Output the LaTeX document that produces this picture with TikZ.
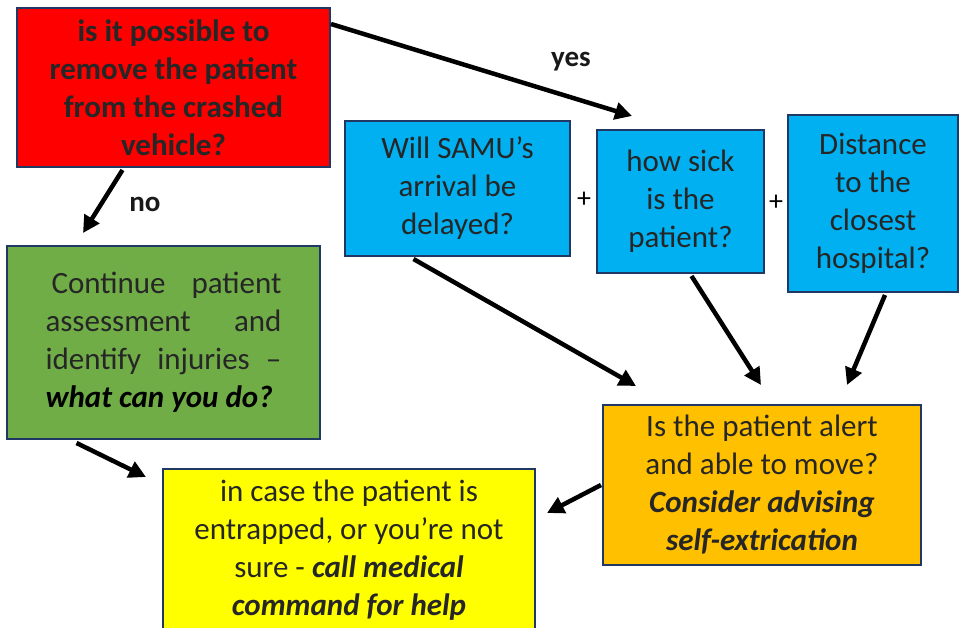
\documentclass[tikz,border=0pt]{standalone}
\usepackage{fontspec}
\setmainfont{Carlito}
\usetikzlibrary{arrows.meta}
\definecolor{navy}{HTML}{203864}
\definecolor{txt}{HTML}{262626}
\definecolor{redf}{HTML}{FF0000}
\definecolor{bluef}{HTML}{00B0F0}
\definecolor{greenf}{HTML}{70AD47}
\definecolor{orangef}{HTML}{FFC000}
\definecolor{yellowf}{HTML}{FFFF00}
\newcommand{\bi}[1]{\textbf{\textit{#1}}}
\tikzset{
  box/.style={draw=navy, line width=2pt, rectangle, inner sep=0pt, align=center,
    text=txt, font=\fontsize{31}{38}\selectfont},
  conn/.style={line width=4.5pt, -{Triangle[length=17pt,width=17pt]}},
  lbl/.style={font=\fontsize{29}{34}\selectfont\bfseries, text=black!90, inner sep=0pt},
  plus/.style={font=\fontsize{28}{30}\selectfont, inner sep=0pt}
}
\begin{document}
\begin{tikzpicture}[x=1pt,y=-1pt]
\useasboundingbox (0,0) rectangle (964,628);
% boxes
\node[box, fill=redf, minimum width=313pt, minimum height=159pt, font=\fontsize{31}{38}\selectfont\bfseries]
  (red) at (173.5,87.5) {is it possible to\\remove the patient\\from the crashed\\vehicle?};
\node[box, fill=bluef, minimum width=225pt, minimum height=135pt]
  (blueA) at (457.5,188.5) {Will SAMU’s\\arrival be\\delayed?};
\node[box, fill=bluef, minimum width=167pt, minimum height=143pt]
  (blueB) at (680.5,201.5) {how sick\\is the\\patient?};
\node[box, fill=bluef, minimum width=170pt, minimum height=177pt]
  (blueC) at (873,203.5) {Distance\\to the\\closest\\hospital?};
\node[box, fill=greenf, minimum width=313pt, minimum height=193pt, align=left]
  (green) at (163.5,342.5) {\makebox[236pt][s]{\hspace{6pt}Continue patient}\\
  \makebox[236pt][s]{assessment and}\\
  \makebox[236pt][s]{identify injuries –}\\
  \makebox[236pt][l]{\color{black}\bi{what can you do?}}};
\node[box, fill=orangef, minimum width=318pt, minimum height=160pt]
  (orange) at (762,485) {Is the patient alert\\and able to move?\\\bi{Consider advising}\\\bi{self-extrication}};
\node[box, fill=yellowf, minimum width=372pt, minimum height=162pt]
  (yellow) at (349,550) {in case the patient is\\entrapped, or you’re not\\sure - \bi{call medical}\\\bi{command for help}};
% plus signs
\node[plus] (plusA) at (584,200) {+};
\node[plus] (plusB) at (776,203) {+};
% labels
\node[lbl] (yes) at (571,62) {yes};
\node[lbl] (no) at (145,204) {no};
% arrow ends
\coordinate (yesE) at (632,116);
\coordinate (noE) at (83,233);
\coordinate (aE) at (636,386);
\coordinate (bE) at (761,385);
\coordinate (cE) at (847,385);
\coordinate (gE) at (146,477);
\coordinate (oE) at (547,513);
% connectors
\draw[conn] ([yshift=-17pt]red.north east) -- (yesE);
\draw[conn] ([xshift=-51pt,yshift=-2pt]red.south) -- (noE);
\draw[conn] ([xshift=-44pt,yshift=-2pt]blueA.south) -- (aE);
\draw[conn] ([xshift=11pt,yshift=-2pt]blueB.south) -- (bE);
\draw[conn] ([xshift=12pt,yshift=-2pt]blueC.south) -- (cE);
\draw[conn] ([xshift=-87pt,yshift=-3pt]green.south) -- (gE);
\draw[conn] ([xshift=-1pt]orange.west) -- (oE);
\end{tikzpicture}
\end{document}
